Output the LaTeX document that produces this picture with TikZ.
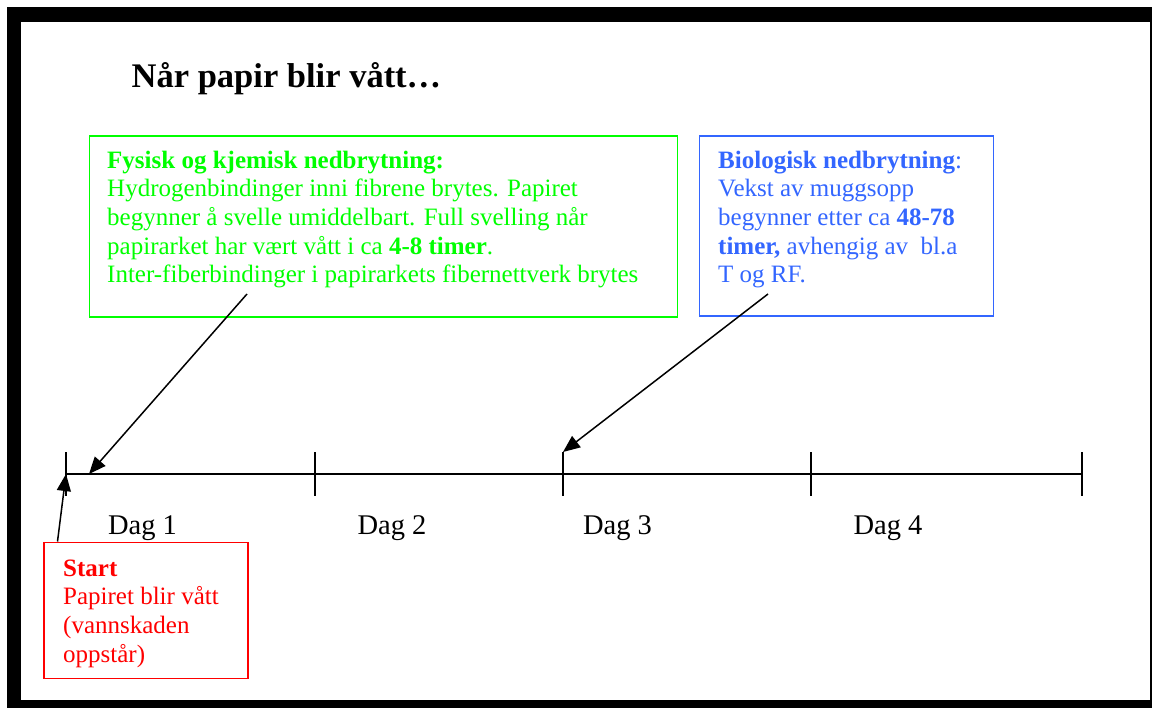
\documentclass[tikz,border=0pt]{standalone}
\usepackage{fontspec}
\setmainfont{Liberation Serif}
\usetikzlibrary{arrows.meta}
\definecolor{pgreen}{RGB}{0,255,0}
\definecolor{pblue}{RGB}{51,102,255}
\definecolor{pred}{RGB}{255,0,0}
\tikzset{
  body/.style={font=\fontsize{25}{28.7}\selectfont, align=left, anchor=north west, inner sep=0pt},
  infobox/.style={draw, line width=1.8pt, inner sep=0pt},
  daylabel/.style={font=\fontsize{28.5}{32}\selectfont, anchor=base, inner sep=0pt},
  pointer/.style={line width=1.5pt, -{Triangle[length=17pt,width=14pt]}},
  axis/.style={line width=1.6pt},
}
\begin{document}
\begin{tikzpicture}[x=1pt,y=-1pt]
\useasboundingbox (0,0) rectangle (1152,708);
% frame
\fill[black] (6.5,7.5) rectangle (1152,708);
\fill[white] (21,22) rectangle (1150,699.5);
% title
\node[font=\bfseries\fontsize{34.5}{40}\selectfont, anchor=base west, inner sep=0pt] (title) at (131.5,88) {Når papir blir vått…};
% boxes
\node[infobox, draw=pgreen, minimum width=588pt, minimum height=181pt, anchor=north west] (gbox) at (88.5,135.5) {};
\node[infobox, draw=pblue, minimum width=294pt, minimum height=180pt, anchor=north west] (bbox) at (698.5,135.5) {};
\node[infobox, draw=pred, minimum width=204pt, minimum height=136pt, anchor=north west] (rbox) at (43,541.5) {};
% texts
\node[body, text=pgreen] (gtext) at (107,147.9) {\strut\textbf{Fysisk og kjemisk nedbrytning:}\\
Hydrogenbindinger inni fibrene brytes. Papiret\\
begynner å svelle umiddelbart. Full svelling når\\
papirarket har vært vått i ca \textbf{4-8 timer}.\\
Inter-fiberbindinger i papirarkets fibernettverk brytes};
\node[body, text=pblue] (btext) at (718,147.9) {\strut\textbf{Biologisk nedbrytning}:\\
Vekst av muggsopp\\
begynner etter ca \textbf{48-78}\\
\textbf{timer,} avhengig av \ bl.a\\
T og RF.};
\node[body, text=pred] (rtext) at (63,555.9) {\strut\textbf{Start}\\
Papiret blir vått\\
(vannskaden\\
oppstår)};
% timeline
\coordinate (t0) at (66,474);
\coordinate (t1) at (315,474);
\coordinate (t2) at (563,474);
\coordinate (t3) at (811,474);
\coordinate (t4) at (1082,474);
\draw[axis] (t0) -- (t4);
\foreach \t in {t0,t1,t2,t3,t4}{
  \draw[axis] ([yshift=-22pt]\t) -- ([yshift=22pt]\t);
}
\coordinate (t2top) at (563,452);
\coordinate (gmark) at (89,474);
% day labels
\node[daylabel] (d1) at (142.5,535) {Dag 1};
\node[daylabel] (d2) at (392,535) {Dag 2};
\node[daylabel] (d3) at (617.5,535) {Dag 3};
\node[daylabel] (d4) at (888,535) {Dag 4};
% pointers
\coordinate (gstart) at (247,294);
\coordinate (bstart) at (768,294);
\coordinate (rstart) at (57.5,541.5);
\draw[pointer] (gstart) -- (gmark);
\draw[pointer] (bstart) -- (t2top);
\draw[pointer] (rstart) -- (t0);
\end{tikzpicture}
\end{document}
